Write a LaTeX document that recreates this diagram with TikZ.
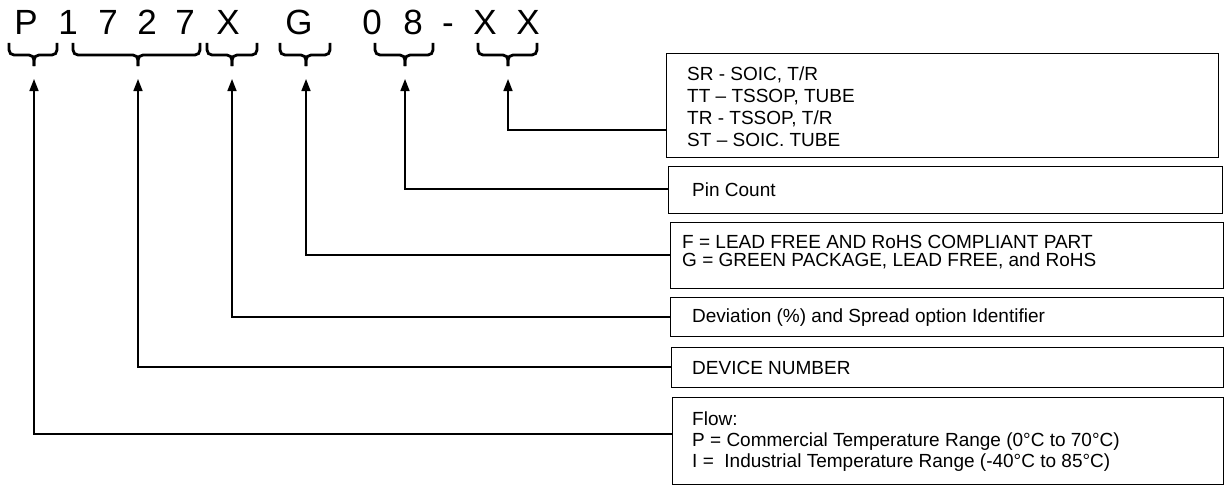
\documentclass[tikz,border=0pt]{standalone}
\usepackage{fontspec}
\setmainfont{Liberation Sans}
\usetikzlibrary{arrows.meta}
\begin{document}
\begin{tikzpicture}[x=1pt,y=-1pt,
  code/.style={font=\fontsize{35}{40}\selectfont, inner sep=0pt, anchor=base},
  brc/.style={line width=2.8pt, rounded corners=5pt},
  conn/.style={line width=1.6pt, -{Triangle[length=12pt,width=9pt]}},
  box/.style={draw, line width=1.4pt, inner sep=0pt, anchor=north west},
  txt/.style={inner sep=0pt, anchor=west, align=left, font=\fontsize{19}{22}\selectfont}]
\useasboundingbox (0,0) rectangle (1225,487);

% part number characters
\node[code] (cP)  at (26,35)  {P};
\node[code] (c1)  at (68,35)  {1};
\node[code] (c7a) at (108,35) {7};
\node[code] (c2)  at (147,35) {2};
\node[code] (c7b) at (185,35) {7};
\node[code] (cX)  at (228,35) {X};
\node[code] (cG)  at (299,35) {G};
\node[code] (c0)  at (372,35) {0};
\node[code] (c8)  at (413,35) {8};
\node[code] (cd)  at (448,35) {-};
\node[code] (cXa) at (485,35) {X};
\node[code] (cXb) at (528,35) {X};

% braces
\draw[brc] (9,43) -- (9,55) -- (34,55) -- (34,66);
\draw[brc] (57,43) -- (57,55) -- (34,55) -- (34,66);
\draw[brc] (73,43) -- (73,55) -- (138,55) -- (138,66);
\draw[brc] (200,43) -- (200,55) -- (138,55) -- (138,66);
\draw[brc] (207,43) -- (207,55) -- (232,55) -- (232,66);
\draw[brc] (257,43) -- (257,55) -- (232,55) -- (232,66);
\draw[brc] (280,43) -- (280,55) -- (306,55) -- (306,66);
\draw[brc] (330,43) -- (330,55) -- (306,55) -- (306,66);
\draw[brc] (375,43) -- (375,55) -- (405,55) -- (405,66);
\draw[brc] (433,43) -- (433,55) -- (405,55) -- (405,66);
\draw[brc] (478,43) -- (478,55) -- (508,55) -- (508,66);
\draw[brc] (537,43) -- (537,55) -- (508,55) -- (508,66);

% arrow tips
\coordinate (a1) at (34,79);
\coordinate (a2) at (138,79);
\coordinate (a3) at (232,79);
\coordinate (a4) at (306,79);
\coordinate (a5) at (405,79);
\coordinate (a6) at (508,79);

% boxes
\node[box, minimum width=552pt, minimum height=104pt] (b1) at (666,53) {};
\node[box, minimum width=554pt, minimum height=47pt]  (b2) at (668,166) {};
\node[box, minimum width=553pt, minimum height=66pt]  (b3) at (670,222) {};
\node[box, minimum width=553pt, minimum height=39pt]  (b4) at (670,297) {};
\node[box, minimum width=552pt, minimum height=40pt]  (b5) at (671,347) {};
\node[box, minimum width=551pt, minimum height=87pt]  (b6) at (672,397) {};

% texts
\node[txt, font=\fontsize{19}{22.3}\selectfont] (t1) at ([xshift=21pt,yshift=-1pt]b1.west)
  {SR - SOIC, T/R\\TT – TSSOP, TUBE\\TR - TSSOP, T/R\\ST – SOIC. TUBE};
\node[txt] (t2) at ([xshift=24pt]b2.west) {Pin Count};
\node[txt, font=\fontsize{19}{18}\selectfont] (t3) at ([xshift=12pt,yshift=4pt]b3.west)
  {F = LEAD FREE AND RoHS COMPLIANT PART\\G = GREEN PACKAGE, LEAD FREE, and RoHS};
\node[txt] (t4) at ([xshift=22pt]b4.west) {Deviation (\%) and Spread option Identifier};
\node[txt] (t5) at ([xshift=21pt]b5.west) {DEVICE NUMBER};
\node[txt, font=\fontsize{19}{21}\selectfont] (t6) at ([xshift=20pt]b6.west)
  {Flow:\\P = Commercial Temperature Range (0°C to 70°C)\\I =\ \ Industrial Temperature Range (-40°C to 85°C)};

% connector heights
\coordinate (k6) at (0,130);
\coordinate (k5) at (0,189);
\coordinate (k4) at (0,255);
\coordinate (k3) at (0,317);
\coordinate (k2) at (0,367);
\coordinate (k1) at (0,434);

% connectors
\draw[conn] (b1.west |- k6) -| (a6);
\draw[conn] (b2.west |- k5) -| (a5);
\draw[conn] (b3.west |- k4) -| (a4);
\draw[conn] (b4.west |- k3) -| (a3);
\draw[conn] (b5.west |- k2) -| (a2);
\draw[conn] (b6.west |- k1) -| (a1);
\end{tikzpicture}
\end{document}
